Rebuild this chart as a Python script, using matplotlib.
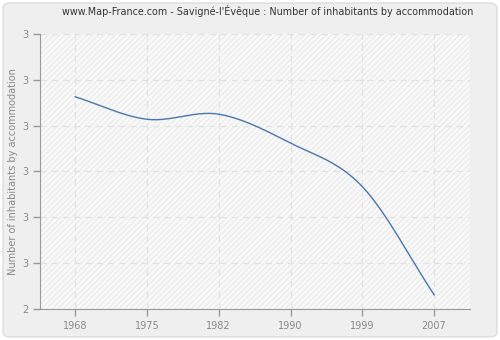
import matplotlib
matplotlib.use("Agg")
import matplotlib.pyplot as plt
import numpy as np
from matplotlib.patches import FancyBboxPatch, Rectangle
from matplotlib.ticker import FuncFormatter

years = ["1968", "1975", "1982", "1990", "1999", "2007"]
values = [2.863, 2.814, 2.825, 2.762, 2.667, 2.431]
y_ticks = [2.4, 2.5, 2.6, 2.7, 2.8, 2.9, 3.0]

title = "www.Map-France.com - Savigné-l'Évêque : Number of inhabitants by accommodation"
ylabel = "Number of inhabitants by accommodation"


def catmull(xs, ys, n=40):
    xs = np.asarray(xs, float); ys = np.asarray(ys, float)
    m = len(xs)
    t = np.zeros(m)
    for i in range(m):
        if i == 0:
            t[i] = (ys[1] - ys[0]) / (xs[1] - xs[0])
        elif i == m - 1:
            t[i] = (ys[-1] - ys[-2]) / (xs[-1] - xs[-2])
        else:
            t[i] = (ys[i + 1] - ys[i - 1]) / (xs[i + 1] - xs[i - 1])
    ox, oy = [], []
    for i in range(m - 1):
        h = xs[i + 1] - xs[i]
        s = np.linspace(0, 1, n, endpoint=(i == m - 2))
        h00 = 2 * s**3 - 3 * s**2 + 1
        h10 = s**3 - 2 * s**2 + s
        h01 = -2 * s**3 + 3 * s**2
        h11 = s**3 - s**2
        ox.extend(xs[i] + s * h)
        oy.extend(h00 * ys[i] + h10 * h * t[i] + h01 * ys[i + 1] + h11 * h * t[i + 1])
    return np.array(ox), np.array(oy)


fig = plt.figure(figsize=(5, 3.4), dpi=100)
fig.patch.set_facecolor("white")
bg = FancyBboxPatch((0.006, 0.009), 0.988, 0.982, boxstyle="round,pad=0,rounding_size=0.015",
                    transform=fig.transFigure, facecolor="#efefef", edgecolor="#dcdcdc",
                    linewidth=1, zorder=-10)
fig.patches.append(bg)

ax = fig.add_axes([0.08, 0.0912, 0.86, 0.8088])
ax.set_zorder(1)
ax.set_facecolor("#f9f9f9")
ax.add_patch(Rectangle((0, 0), 1, 1, transform=ax.transAxes, facecolor="none",
                       edgecolor="#ececec", hatch="//////", linewidth=0, zorder=0))

x = np.arange(len(years))
sx, sy = catmull(x, values)
ax.plot(sx, sy, color="#4a76ae", linewidth=1, zorder=3)

ax.set_xlim(-0.49, 5.5)
ax.set_ylim(2.4, 3.0)
ax.set_xticks(x)
ax.set_xticklabels(years)
ax.set_yticks(y_ticks)
ax.yaxis.set_major_formatter(FuncFormatter(lambda v, p: "%d" % int(np.floor(v + 0.5 + 1e-9))))

ax.grid(True, color="#e2e2e2", linestyle=(0, (5, 4)), linewidth=0.9)
ax.set_axisbelow(True)
for s in ["top", "right"]:
    ax.spines[s].set_visible(False)
for s in ["left", "bottom"]:
    ax.spines[s].set_color("#999999")
ax.tick_params(axis="both", colors="#999999", labelcolor="#888888", labelsize=7,
               length=5, width=1)
ax.set_ylabel(ylabel, color="#888888", fontsize=7, labelpad=3)

fig.text(0.535, 0.968, title, ha="center", va="center", fontsize=6.9, color="#333333")

fig.savefig("out.png", dpi=100, facecolor=fig.get_facecolor())
